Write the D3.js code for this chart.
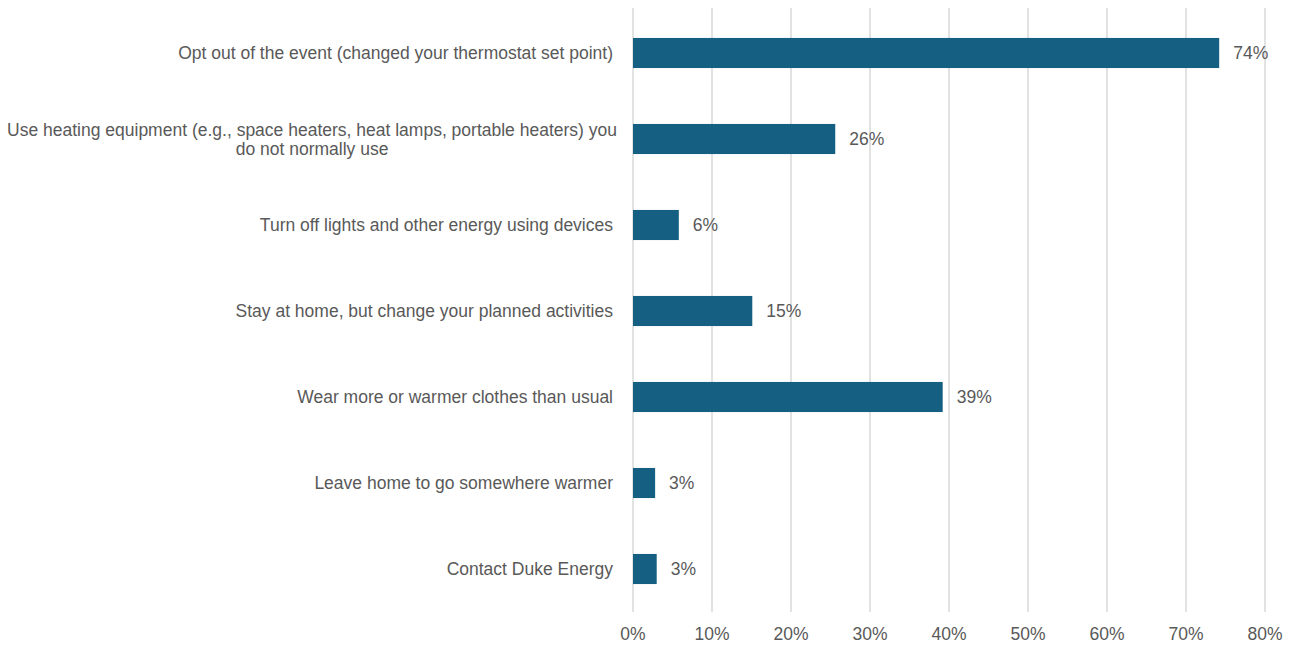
<!DOCTYPE html>
<html><head><meta charset="utf-8">
<script src="https://cdn.jsdelivr.net/npm/d3@7"></script>
<style>
body{margin:0;background:#fff;}
text{font-family:"Liberation Sans",Arial,sans-serif;fill:#595959;}
</style></head>
<body><svg id="c" width="1291" height="645"></svg>
<script>
const categories = [
  ["Opt out of the event (changed your thermostat set point)"],
  ["Use heating equipment (e.g., space heaters, heat lamps, portable heaters) you","do not normally use"],
  ["Turn off lights and other energy using devices"],
  ["Stay at home, but change your planned activities"],
  ["Wear more or warmer clothes than usual"],
  ["Leave home to go somewhere warmer"],
  ["Contact Duke Energy"]
];
const values = [74.2, 25.6, 5.8, 15.1, 39.2, 2.8, 3.0];
const valueLabels = ["74%","26%","6%","15%","39%","3%","3%"];
const ticks = [0,10,20,30,40,50,60,70,80];

const svg = d3.select("#c");
const m = {left:633, right:1265, top:10, bottom:612};
const x = d3.scaleLinear().domain([0,80]).range([m.left, m.right]);
const y = d3.scaleBand().domain(d3.range(categories.length)).range([m.top, m.bottom]).paddingInner(0.65).paddingOuter(0.325);
const fs = "17.5px";

svg.append("g").selectAll("line").data(ticks).join("line")
  .attr("x1",d=>x(d)).attr("x2",d=>x(d)).attr("y1",8).attr("y2",612)
  .attr("stroke","#d9d9d9").attr("stroke-width",1.5);

svg.append("g").selectAll("text").data(ticks).join("text")
  .attr("x",d=>x(d)).attr("y",640).attr("text-anchor","middle")
  .style("font-size",fs).text(d=>d+"%");

svg.append("g").selectAll("rect").data(values).join("rect")
  .attr("x",x(0)).attr("y",(d,i)=>y(i)).attr("width",d=>x(d)-x(0)).attr("height",y.bandwidth())
  .attr("fill","#156082");

svg.append("g").selectAll("text").data(values).join("text")
  .attr("x",d=>x(d)+14).attr("y",(d,i)=>y(i)+y.bandwidth()/2+6)
  .style("font-size",fs).text((d,i)=>valueLabels[i]);

const lab = svg.append("g");
categories.forEach((lines,i)=>{
  const cy = y(i)+y.bandwidth()/2;
  if(lines.length===1){
    lab.append("text").attr("x",613).attr("y",cy+6).attr("text-anchor","end").style("font-size",fs).text(lines[0]);
  } else {
    const t1 = lab.append("text").attr("x",617).attr("y",cy-3).attr("text-anchor","end").style("font-size",fs).text(lines[0]);
    const w = t1.node().getComputedTextLength();
    lab.append("text").attr("x",617-w/2).attr("y",cy+16).attr("text-anchor","middle").style("font-size",fs).text(lines[1]);
  }
});
</script></body></html>
